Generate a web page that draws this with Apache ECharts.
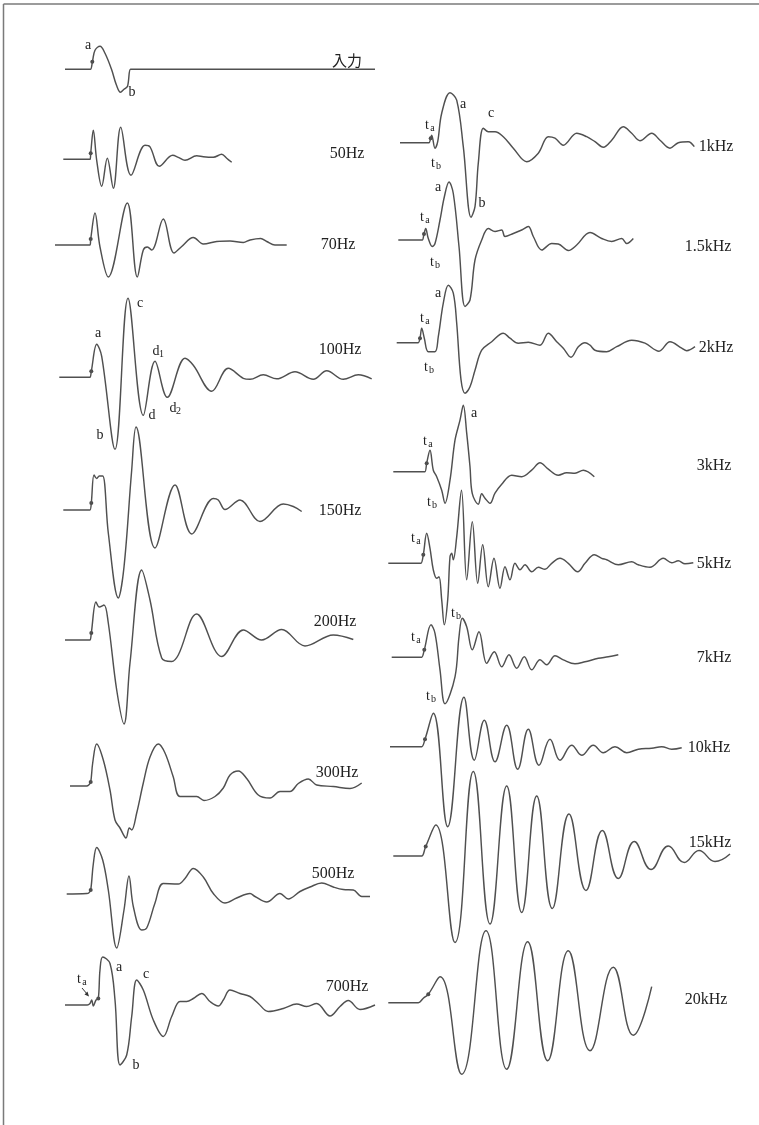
<!DOCTYPE html>
<html><head><meta charset="utf-8">
<script src="https://cdn.jsdelivr.net/npm/echarts@6/dist/echarts.min.js"></script>
<style>html,body{margin:0;padding:0;background:#fff}#c{width:759px;height:1125px}</style>
</head><body><div id="c"></div>
<script>
// ---- waveform data: [time offset, amplitude] ----
const wave_input = [[10,0],[33.5,0],[35.5,0],[37.5,8],[40,19],[45,23],[50,16],[56.5,0],[61.5,-16],[65.5,-23],[69,-20],[72.5,-17],[75.5,0],[79,0],[320,0]];
const wave_50Hz = [[8.3,0],[33,0],[35,0],[35.7,6],[38.3,29],[41.7,-1],[46.7,-27],[52.3,1],[58.3,-29],[65.7,32],[76,-16],[90,14],[95,12.5],[104.3,-7],[117.7,4],[123.3,2],[130,-1],[141.7,3.5],[148.3,2.5],[158.3,2],[166.7,5],[171.7,1],[176.7,-3]];
const wave_70Hz = [[0,0],[33,0],[35,0],[35.7,6],[40,32],[45,-2],[53.3,-32],[72.3,42],[82.3,-32],[88.3,-5],[92.3,-2],[96.7,-5],[108.3,26],[119,-8],[126.7,-1.5],[138.3,7.5],[148.3,1],[161.7,3.5],[175,4],[188.3,2.5],[195,5],[205.7,6.5],[211.7,3.5],[220,0],[231.7,0]];
const wave_100Hz = [[4.3,0],[33,0],[35,0],[36.3,6],[41.7,33],[46.7,21],[60,-72],[73,79],[88.3,-38],[100,16],[112.3,-20],[130,19],[138.3,12],[156.7,-14],[173.3,9],[188.3,-1],[195,-2],[208.3,2.5],[221.7,-1.5],[240,5.5],[258.3,-2],[271.7,6.5],[288.3,-2],[303.3,2.5],[316.7,-1.5]];
const wave_150Hz = [[8.3,0],[33,0],[35,0],[36.3,7],[39,35],[41.7,31.5],[44.3,34],[47.7,34],[53.3,-23],[63.3,-88],[69,-57],[76.7,40],[81,83],[100,-38],[120,25],[136.7,-24],[158.3,11.5],[163.3,10],[170,0.5],[185,10],[205,-11.5],[228.3,6],[238.3,3.5],[246.7,-1.5]];
const wave_200Hz = [[10,0],[33,0],[35,0],[36.3,7],[41,38],[44.3,33],[49,35],[53.3,17],[61.7,-50],[69,-84],[75,-23],[86.7,70],[95,40],[106.7,-18],[116.7,-21.5],[123.3,-15],[141.7,26],[166.7,-16.5],[188.3,10],[206.7,0],[226.7,10.5],[250,-6],[278.3,5],[298.3,0.5]];
const wave_300Hz = [[15,0],[31.7,0],[33.7,1],[35.7,4],[37.7,23],[41.7,42],[48.3,26],[55,-4],[60,-34],[65,-42],[71,-52],[74.3,-42],[76.7,-44],[81.7,-27],[88.3,3],[95,29],[103.3,42],[110,33],[118.3,9],[125,-10.5],[141.7,-10.5],[149,-14.5],[160,-10.5],[168.3,-2],[175,11],[183.3,15],[191.7,7.5],[203.3,-9],[215,-12],[225,-5.5],[235,-5.5],[243.3,2.5],[253.3,7],[261.7,1],[278.3,-0.5],[295,-2.5],[306.7,3]];
const wave_500Hz = [[11.7,0],[31.7,0.5],[33.7,1],[35.7,4],[38.3,30],[41.7,46.5],[47.7,34],[53.3,4],[61.7,-54],[69,-16],[74,18],[78.3,-12.5],[86.7,-36],[91.7,-34],[100,-9],[108.3,10.5],[123.3,10],[130,15.5],[138.3,25.5],[148.3,17],[158.3,0.5],[170,-9],[181.7,-4],[195,0.5],[200,-2.5],[211.7,-8],[225,0.5],[233.3,-5],[245,2.5],[255,7],[266.7,11],[278.3,7],[288.3,4.5],[298.3,4],[306.7,-2.5],[315,-2.5]];
const wave_700Hz = [[10,0],[30.3,0],[32.3,0],[35,1.5],[36.7,5],[38.3,-1],[41,5],[43.3,6.5],[45,35],[47.7,48],[55,41.5],[60,5],[65,-60],[71.7,-50],[76.7,-11.5],[81.7,25],[88.3,15],[98.3,-15],[108.3,-31.5],[116.7,-11.5],[125,3.5],[131.7,3.5],[138.3,6.5],[146.7,11.5],[155,3.5],[163.3,-1],[168.3,5],[175,15],[185,11.5],[195,8.5],[203.3,1.5],[213.3,-6.5],[228.3,-3.5],[241.7,1],[251.7,-1.5],[261.7,1.5],[275,-11],[285,-1.5],[293.3,4.5],[305,-4.5],[320,0]];
const wave_1kHz = [[15,0],[42,0],[44,0],[45.7,4.5],[46.7,7.5],[50,-5.5],[52.7,1],[56.7,29.5],[65,50],[71.7,42.5],[78.3,-4],[86,-74.5],[90,-64],[93.3,-20.5],[98.3,14.5],[103.3,11],[110,11],[118.3,6],[128.3,-5.5],[141.7,-19],[153.3,-10.5],[163.3,6],[170,4.5],[178.3,-2.5],[191.7,9.5],[201.7,6],[210,1],[218.3,-4.5],[226.7,2.5],[238.3,16],[246.7,9.5],[255,2],[266.7,9.5],[275,2.5],[285,-5.5],[293.3,0],[303.3,1],[309.3,-4]];
const wave_1_5kHz = [[13.3,0],[35.3,0],[37.3,0],[39,6],[40.7,11.5],[43.3,1.5],[47.3,-6.5],[50,-3.5],[55,20],[59.3,43],[64,58],[68.3,46.5],[74,-6.5],[80,-66.5],[85,-60],[90,-20],[96.7,0],[103.3,11.5],[110,8.5],[116.7,10],[120,3.5],[128.3,6.5],[136.7,10],[143.3,13.5],[148.3,3.5],[156.7,-10],[166.7,-3.5],[173.3,-4],[183.3,-10.5],[191.7,-5],[205,7.5],[216.7,1.5],[226.7,-1.5],[236.7,1.5],[241.7,-3.5],[248.3,1.5]];
const wave_2kHz = [[11.7,0],[31.3,0],[33.3,0],[35,4.5],[36.7,14.5],[39.3,4.5],[43.3,-9],[50,-9],[53.3,6],[58.3,39.5],[63.3,57.5],[68.3,49.5],[71.7,19.5],[76,-37],[80,-50.5],[85,-44],[90,-27.5],[96.7,-7.5],[106.7,1],[118.3,9.5],[125,4.5],[133.3,-0.5],[143.3,0.5],[155,-2.5],[163.3,9.5],[171.7,1],[178.3,-5.5],[186,-14.5],[193.3,-4],[200,0],[205,-2.5],[210,-7.5],[221.7,-9],[231.7,-4],[246.7,2.5],[260,-0.5],[274,-8.5],[285,1],[296.7,-5.5],[301.7,-8],[310,-4]];
const wave_3kHz = [[8.3,0],[38,0],[40,0],[41.7,8.5],[45,21.5],[48.3,1.5],[51.7,-5],[56.7,-18.5],[60,-31.5],[65,-8.5],[70,31.5],[75,51.5],[78.3,66.5],[81.7,38.5],[85,5],[87.3,-22],[93.3,-32.5],[96.7,-22],[100,-26.5],[105,-31.5],[110,-21.5],[116.7,-12.5],[126.7,-3.5],[136.7,-5],[146.7,1.5],[155,9],[163.3,2.5],[173.3,-3.5],[181.7,-1],[190,-1.5],[198.3,1.5],[209.3,-5]];
const wave_5kHz = [[3.3,0],[34,0],[36,0],[38.3,8.5],[41.7,30],[45,15],[48.3,-6.5],[51.7,-15],[54,-13.5],[56.7,-36.5],[59.3,-61.5],[62.7,-36.5],[65,6.5],[66.7,10],[68.3,3.5],[71.7,26.5],[76.5,73],[81.7,-16.5],[87.3,41.5],[92.7,-20],[97.7,18.5],[103.3,-23.5],[109,5],[115,-25],[120,-3.5],[125,-16.5],[130,0],[135,-6.5],[140,-1.5],[146.7,-8.5],[153.3,-4],[160,-6],[166.7,0],[175,5],[183.3,0],[192.7,-8.5],[200,0],[209.3,8.5],[216.7,5],[221.7,3.5],[233.3,-1.5],[246.7,1.5],[253.3,-1.5],[265,-4],[278.3,5],[286.7,0.5],[293.3,2.5],[300,-0.5],[308.3,0.5]];
const wave_7kHz = [[6.7,0],[34.7,0],[36.7,0],[39.3,7.5],[46,32.5],[50,24],[55,-12.5],[60,-46.5],[70,-19.5],[74,20.5],[77.3,39],[81.7,30.5],[87.3,7.5],[94,25.5],[101.7,-6],[109.3,5.5],[116.7,-9.5],[124,2.5],[131.7,-11],[139.3,0.5],[146.7,-12.5],[155,-2.5],[161.7,-7.5],[170,1.5],[178.3,-2.5],[190,-6.5],[200,-4.5],[213.3,-1],[223.3,0.5],[233.3,2.5]];
const wave_10kHz = [[5,0],[34.7,0],[36.7,0],[40,7.5],[48.3,33.5],[62.7,-80],[79,49.5],[89.3,-13.5],[99.3,26.5],[110,-15],[121.7,21.5],[132.7,-22.5],[143.3,17.5],[154,-18.5],[165,7.5],[175,-13.5],[186.7,1.5],[196.7,-8.5],[208.3,1.5],[218.3,-6],[230,0],[241.7,-6],[253.3,-2.5],[266.7,-1.5],[276.7,0],[286.7,-2.5],[296.7,-1]];
const wave_15kHz = [[8.3,0],[34.7,0],[36.7,0],[40.7,9.5],[50.7,31],[70,-86.5],[88.3,84.5],[105,-68],[121.7,70],[136.7,-56.5],[151.7,60],[167.3,-52.5],[184,42],[201,-34.5],[217.3,25.5],[233.3,-22.5],[249.3,14.5],[266,-13.5],[283.3,10],[299.3,-6.5],[314,5.5],[330,-5.5],[345,2]];
const wave_20kHz = [[3.3,0],[31.3,0],[33.3,0],[38.3,4.5],[43.3,8.5],[55,26],[76.7,-71.5],[101,72],[121.7,-66.5],[142.7,61],[162.7,-58],[183.3,52],[205,-48],[228.3,35.5],[248.3,-32.5],[266.7,16]];

// stimulus marker dots [time, amplitude]
const dot_input=[37.3,7.6], dot_50Hz=[35.7,6], dot_70Hz=[35.7,6], dot_100Hz=[36.3,6], dot_150Hz=[36.3,7], dot_200Hz=[36.3,7],
      dot_300Hz=[35.7,4], dot_500Hz=[35.7,4], dot_700Hz=[43.3,6.5], dot_1kHz=[45.7,4.5], dot_1_5kHz=[39,6], dot_2kHz=[35,4.5],
      dot_3kHz=[41.7,8.5], dot_5kHz=[38.3,8.5], dot_7kHz=[39.3,7.5], dot_10kHz=[40,7.5], dot_15kHz=[40.7,9.5], dot_20kHz=[43.3,8.5];

// trace names
const names = ['入力','50Hz','70Hz','100Hz','150Hz','200Hz','300Hz','500Hz','700Hz','1kHz','1.5kHz','2kHz','3kHz','5kHz','7kHz','10kHz','15kHz','20kHz'];

// ---- layout (positions / styles) ----
const cols = {L:{left:55,width:325}, R:{left:385,width:355}};
const layout = [
 {col:'L', base:69.3, range:60, lab:[347,60]},
 {col:'L', base:159.3, range:100, lab:[347,154]},
 {col:'L', base:245, range:100, lab:[338,245]},
 {col:'L', base:377.3, range:100, lab:[340,350]},
 {col:'L', base:510, range:100, lab:[340,511]},
 {col:'L', base:640, range:100, lab:[335,622]},
 {col:'L', base:786, range:100, lab:[337,773]},
 {col:'L', base:894, range:100, lab:[333,874]},
 {col:'L', base:1005, range:100, lab:[347,987]},
 {col:'R', base:142.7, range:100, lab:[716,147]},
 {col:'R', base:240, range:100, lab:[708,247]},
 {col:'R', base:342.7, range:100, lab:[716,348]},
 {col:'R', base:471.7, range:100, lab:[714,466]},
 {col:'R', base:563.3, range:100, lab:[714,564]},
 {col:'R', base:657.3, range:100, lab:[714,658]},
 {col:'R', base:746.7, range:100, lab:[709,748]},
 {col:'R', base:856, range:100, lab:[710,843]},
 {col:'R', base:1002.7, range:100, lab:[706,1000]}
];
const smoothness = [0.36,0.36,0.36,0.36,0.36,0.36,0.36,0.36,0.36,0.36,0.36,0.36,0.36,0.36,0.36,0.42,0.45,0.45];
const waves = [wave_input,wave_50Hz,wave_70Hz,wave_100Hz,wave_150Hz,wave_200Hz,wave_300Hz,wave_500Hz,wave_700Hz,
  wave_1kHz,wave_1_5kHz,wave_2kHz,wave_3kHz,wave_5kHz,wave_7kHz,wave_10kHz,wave_15kHz,wave_20kHz];
const dots = [dot_input,dot_50Hz,dot_70Hz,dot_100Hz,dot_150Hz,dot_200Hz,dot_300Hz,dot_500Hz,dot_700Hz,
  dot_1kHz,dot_1_5kHz,dot_2kHz,dot_3kHz,dot_5kHz,dot_7kHz,dot_10kHz,dot_15kHz,dot_20kHz];

const SERIF = '"Liberation Serif","DejaVu Serif",serif';
const LINE = '#505050';
const grids=[], xAxes=[], yAxes=[], series=[], graphic=[];

layout.forEach((L,i)=>{
  const c = cols[L.col];
  grids.push({left:c.left, width:c.width, top:L.base-L.range, height:2*L.range, containLabel:false, outerBoundsMode:'none', show:false});
  xAxes.push({type:'value', gridIndex:i, min:0, max:c.width, show:false});
  yAxes.push({type:'value', gridIndex:i, min:-L.range, max:L.range, show:false});
  series.push({type:'line', xAxisIndex:i, yAxisIndex:i, data:waves[i], smooth:smoothness[i], showSymbol:false, symbol:'none',
    lineStyle:{color:LINE, width:1.45}, silent:true, clip:false});
  series.push({type:'scatter', xAxisIndex:i, yAxisIndex:i, data:[dots[i]], symbolSize:4, itemStyle:{color:'#1e1e1e'}, silent:true});
  const isCJK = i===0;
  graphic.push({type:'text', x:L.lab[0], y:L.lab[1], silent:true,
    style:{text:names[i], font: isCJK ? '15px "Noto Sans CJK JP",sans-serif' : '16px '+SERIF, fill:'#222',
      align:'center', verticalAlign:'middle', textAlign:'center', textVerticalAlign:'middle'}});
});

// point annotations (letter, optional subscript, position)
const notes = [
 ['a','',88,45],['b','',132,92],
 ['a','',98,333],['b','',100,435],['c','',140,303],['d','1',156,351],['d','',152,415],['d','2',173,408],
 ['t','a',79,979],['a','',119,967],['c','',146,974],['b','',136,1065],
 ['t','a',427,125],['t','b',433,163],['a','',463,104],['c','',491,113],['b','',482,203],
 ['t','a',422,217],['t','b',432,262],['a','',438,187],
 ['t','a',422,318],['t','b',426,367],['a','',438,293],
 ['t','a',425,441],['t','b',429,502],['a','',474,413],
 ['t','a',413,538],['t','b',453,613],
 ['t','a',413,637],['t','b',428,696]
];
notes.forEach(n=>{
  graphic.push({type:'text', x:n[2], y:n[3], silent:true,
    style:{text:n[0], font:'14px '+SERIF, fill:'#222', align:'center', verticalAlign:'middle', textAlign:'center', textVerticalAlign:'middle'}});
  if(n[1]) graphic.push({type:'text', x:n[2]+5.5, y:n[3]+3, silent:true,
    style:{text:n[1], font:'10px '+SERIF, fill:'#222', align:'center', verticalAlign:'middle', textAlign:'center', textVerticalAlign:'middle'}});
});
// arrow for t_a at 700Hz
graphic.push({type:'line', silent:true, shape:{x1:82,y1:988,x2:87.5,y2:994.5}, style:{stroke:'#333', lineWidth:1}});
graphic.push({type:'polygon', silent:true, shape:{points:[[89,996.5],[84.5,994.5],[87.5,991.5]]}, style:{fill:'#333'}});
// page frame (top and left edges)
graphic.push({type:'line', silent:true, shape:{x1:3.5,y1:4,x2:759,y2:4}, style:{stroke:'#7a7a7a', lineWidth:1.5}});
graphic.push({type:'line', silent:true, shape:{x1:3.5,y1:4,x2:3.5,y2:1125}, style:{stroke:'#7a7a7a', lineWidth:1.5}});

const chart = echarts.init(document.getElementById('c'), null, {renderer:'canvas'});
chart.setOption({animation:false, backgroundColor:'#fff', grid:grids, xAxis:xAxes, yAxis:yAxes, series:series, graphic:graphic});
</script></body></html>
